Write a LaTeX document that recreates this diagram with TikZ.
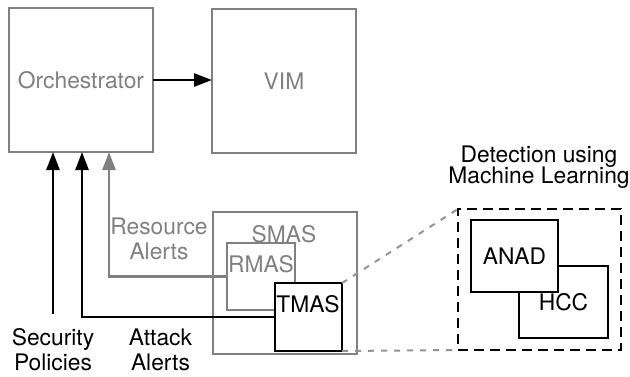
\documentclass[tikz,border=0pt]{standalone}
\usepackage{fontspec}
\setmainfont{TeX Gyre Heros}
\usepackage{tikz}
\usetikzlibrary{arrows.meta,positioning}
\definecolor{boxgray}{RGB}{128,128,128}

\begin{document}
\begin{tikzpicture}
[x=0.5pt,y=-0.5pt,
 font=\fontsize{11.4}{12.5}\selectfont,
 >={Triangle[length=9pt,width=6.5pt]},
 graybox/.style={rectangle,draw=boxgray,line width=1pt,inner sep=0pt,outer sep=0pt,text=boxgray},
 blackbox/.style={rectangle,draw=black,fill=white,line width=1pt,inner sep=0pt,outer sep=0pt},
 txt/.style={inner sep=0pt,align=center},
 conn/.style={->,line width=1.3pt},
 zoomline/.style={draw=boxgray!85,line width=1pt,dash pattern=on 3pt off 3.5pt}]
\useasboundingbox (0,0) rectangle (630,376);

\node[graybox,minimum width=72pt,minimum height=72pt] (orch) at (81,80) {Orchestrator};
\node[graybox,minimum width=72pt,minimum height=72pt] (vim) at (284,81) {VIM};

\node[graybox,minimum width=72pt,minimum height=71pt] (smas) at (285,283) {};
\node[txt,text=boxgray] (smaslbl) at (284,234) {SMAS};
\node[graybox,minimum width=34pt,minimum height=33.5pt] (rmas) at (261,276.5) {};
\node[txt,text=boxgray] (rmaslbl) at (261,264.5) {RMAS};
\node[blackbox,minimum width=33.5pt,minimum height=34pt] (tmas) at (308.5,317) {};
\node[txt] (tmaslbl) at (308,304.5) {TMAS};

\node[rectangle,draw,line width=1.2pt,dash pattern=on 5pt off 3pt,inner sep=0pt,outer sep=0pt,minimum width=81.5pt,minimum height=70.5pt] (ml) at (539.5,279.5) {};
\node[blackbox,minimum width=44.5pt,minimum height=36pt] (hcc) at (563.5,302) {HCC};
\node[blackbox,minimum width=43.5pt,minimum height=36pt] (anad) at (514.5,256) {ANAD};
\node[txt,anchor=north,font=\fontsize{11.4}{10.8}\selectfont] (mllbl) at (539,145) {Detection using\\Machine Learning};

\node[txt,text=boxgray,anchor=north] (reslbl) at (159,217) {Resource\\Alerts};
\node[txt,anchor=north,inner ysep=7pt] (secpol) at (53,314) {Security\\Policies};
\node[txt,anchor=north,inner ysep=7pt] (atklbl) at (160.5,314) {Attack\\Alerts};

\draw[conn] (orch.east) -- (orch.east -| vim.west);
\draw[conn,boxgray] (rmas.west) -| ([xshift=14pt]orch.south);
\draw[conn] (tmas.west) -| ([xshift=.5pt]orch.south);
\draw[conn] (secpol.north) -- ([xshift=-14pt]orch.south);

\draw[zoomline] (tmas.north east) -- (ml.north west);
\draw[zoomline] (tmas.south east) -- (ml.south west);
\end{tikzpicture}
\end{document}
